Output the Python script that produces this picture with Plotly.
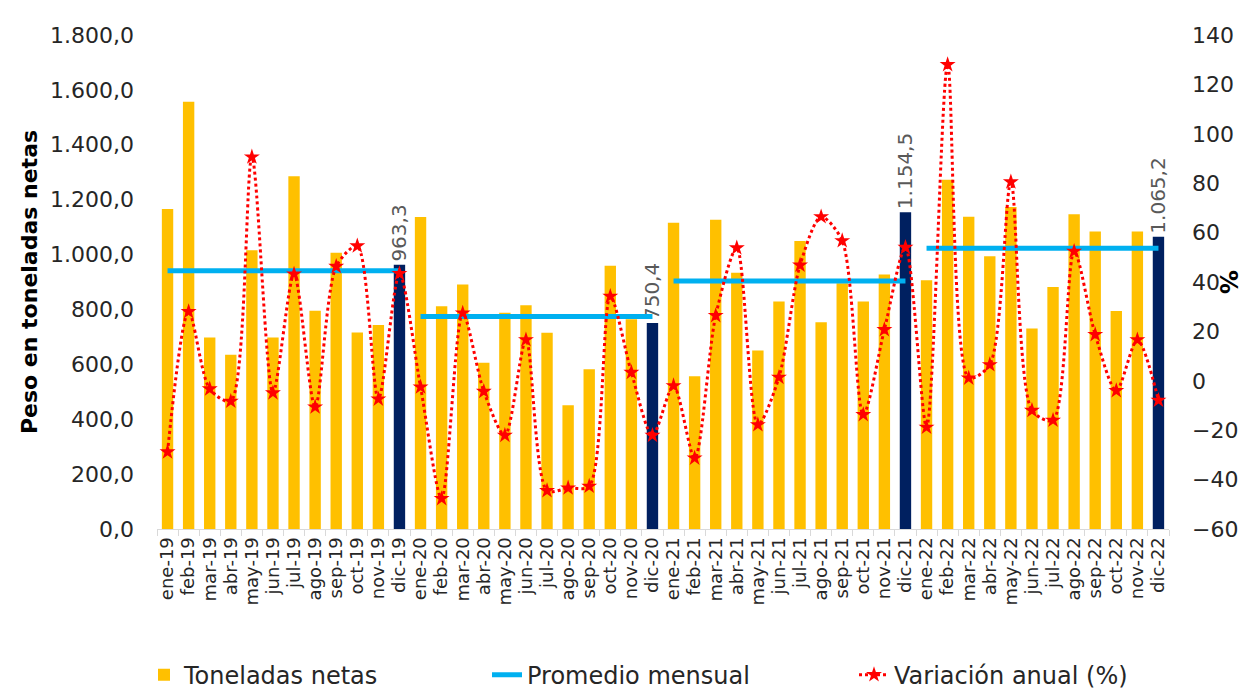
import plotly.graph_objects as go

meses = ["ene", "feb", "mar", "abr", "may", "jun", "jul", "ago", "sep", "oct", "nov", "dic"]
anios = ["19", "20", "21", "22"]
categorias = [f"{m}-{a}" for a in anios for m in meses]

toneladas = [
    1166, 1557, 698, 635, 1016, 698, 1285, 795, 1007, 716, 743, 963.3,
    1137, 812, 891, 606, 788, 815, 715, 451, 582, 959, 764, 750.4,
    1116, 557, 1127, 934, 650, 829, 1049, 753, 895, 829, 927, 1154.5,
    906, 1273, 1138, 994, 1173, 731, 882, 1147, 1084, 794, 1084, 1065.2,
]

variacion = [
    -28.8, 28.0, -3.3, -8.3, 90.6, -4.9, 43.2, -10.6, 46.3, 54.6, -7.4, 43.4,
    -2.5, -47.7, 27.4, -4.3, -22.1, 16.6, -44.5, -43.4, -42.7, 34.2, 3.4, -22.1,
    -2.0, -31.3, 26.4, 53.8, -17.8, 1.4, 46.8, 66.4, 56.7, -13.7, 20.7, 54.0,
    -18.8, 128.0, 1.1, 6.5, 80.5, -12.0, -16.0, 52.4, 18.7, -4.0, 16.6, -7.9,
]

promedio_anual = [941, 774, 904, 1023]

FONT = "'DejaVu Sans', sans-serif"
AMARILLO = "#FFC000"
AZUL_OSCURO = "#002060"
CELESTE = "#00B0F0"
ROJO = "#FF0000"


def fmt_es(v):
    s = f"{v:,.1f}"
    return s.replace(",", "X").replace(".", ",").replace("X", ".")


colores = [AZUL_OSCURO if c.startswith("dic") else AMARILLO for c in categorias]
textos = [fmt_es(v) if c.startswith("dic") else "" for c, v in zip(categorias, toneladas)]

fig = go.Figure()

fig.add_trace(go.Bar(
    x=categorias, y=toneladas, name="Toneladas netas",
    marker=dict(color=colores, line=dict(width=0)),
    text=textos, textposition="outside", textangle=-90,
    textfont=dict(size=20, color="#595959", family=FONT),
    constraintext="none", cliponaxis=False,
    yaxis="y", legend="legend",
))

for i, a in enumerate(anios):
    xs = categorias[i * 12:(i + 1) * 12]
    fig.add_trace(go.Scatter(
        x=xs, y=[promedio_anual[i]] * 12, mode="lines",
        name="Promedio mensual", legendgroup="prom", showlegend=(i == 0),
        line=dict(color=CELESTE, width=5), yaxis="y", legend="legend2",
    ))

fig.add_trace(go.Scatter(
    x=categorias, y=variacion, name="Variación anual (%)",
    mode="lines+markers",
    line=dict(color=ROJO, width=3, dash="dot", shape="spline", smoothing=0.8),
    marker=dict(symbol="star", size=12, color=ROJO),
    yaxis="y2", legend="legend3",
))

leg_common = dict(
    orientation="h", xref="container", yref="container",
    xanchor="left", y=0.036, yanchor="middle",
    font=dict(size=24, family=FONT, color="#262626"),
    itemwidth=30, bgcolor="rgba(0,0,0,0)",
)

fig.update_layout(
    width=1247, height=692,
    paper_bgcolor="white", plot_bgcolor="white",
    margin=dict(l=149, r=86, t=27, b=171),
    separators=",.",
    font=dict(family=FONT, color="#262626"),
    bargap=0.46,
    showlegend=True,
    legend=dict(leg_common, x=136 / 1247),
    legend2=dict(leg_common, x=479 / 1247),
    legend3=dict(leg_common, x=846 / 1247),
    xaxis=dict(
        type="category", range=[-0.5, 47.5], autorange=False,
        tickmode="array", tickvals=categorias, ticktext=categorias,
        tickangle=-90, tickfont=dict(size=18, family=FONT),
        showline=True, linecolor="#D9D9D9", linewidth=1,
        ticks="outside", tickson="boundaries", tickcolor="#D9D9D9", ticklen=6,
        showgrid=False, automargin=False,
    ),
    yaxis=dict(
        range=[0, 1800], dtick=200, tickformat=",.1f",
        tickfont=dict(size=22, family=FONT), showgrid=False, zeroline=False,
        showline=False, automargin=False, ticklabelstandoff=22,
        title=dict(text="<b>Peso en toneladas netas</b>", font=dict(size=22, family=FONT, color="#000000"), standoff=6),
    ),
    yaxis2=dict(
        range=[-60, 140], dtick=20, overlaying="y", side="right",
        tickfont=dict(size=22, family=FONT), showgrid=False, zeroline=False,
        showline=False, automargin=False, ticklabelstandoff=22,
    ),
    annotations=[dict(
        text="<b>%</b>", xref="paper", yref="paper", x=1.074, y=0.50,
        showarrow=False, textangle=90, font=dict(size=24, family=FONT, color="#000000"),
    )],
)

fig.write_html("out.html")
